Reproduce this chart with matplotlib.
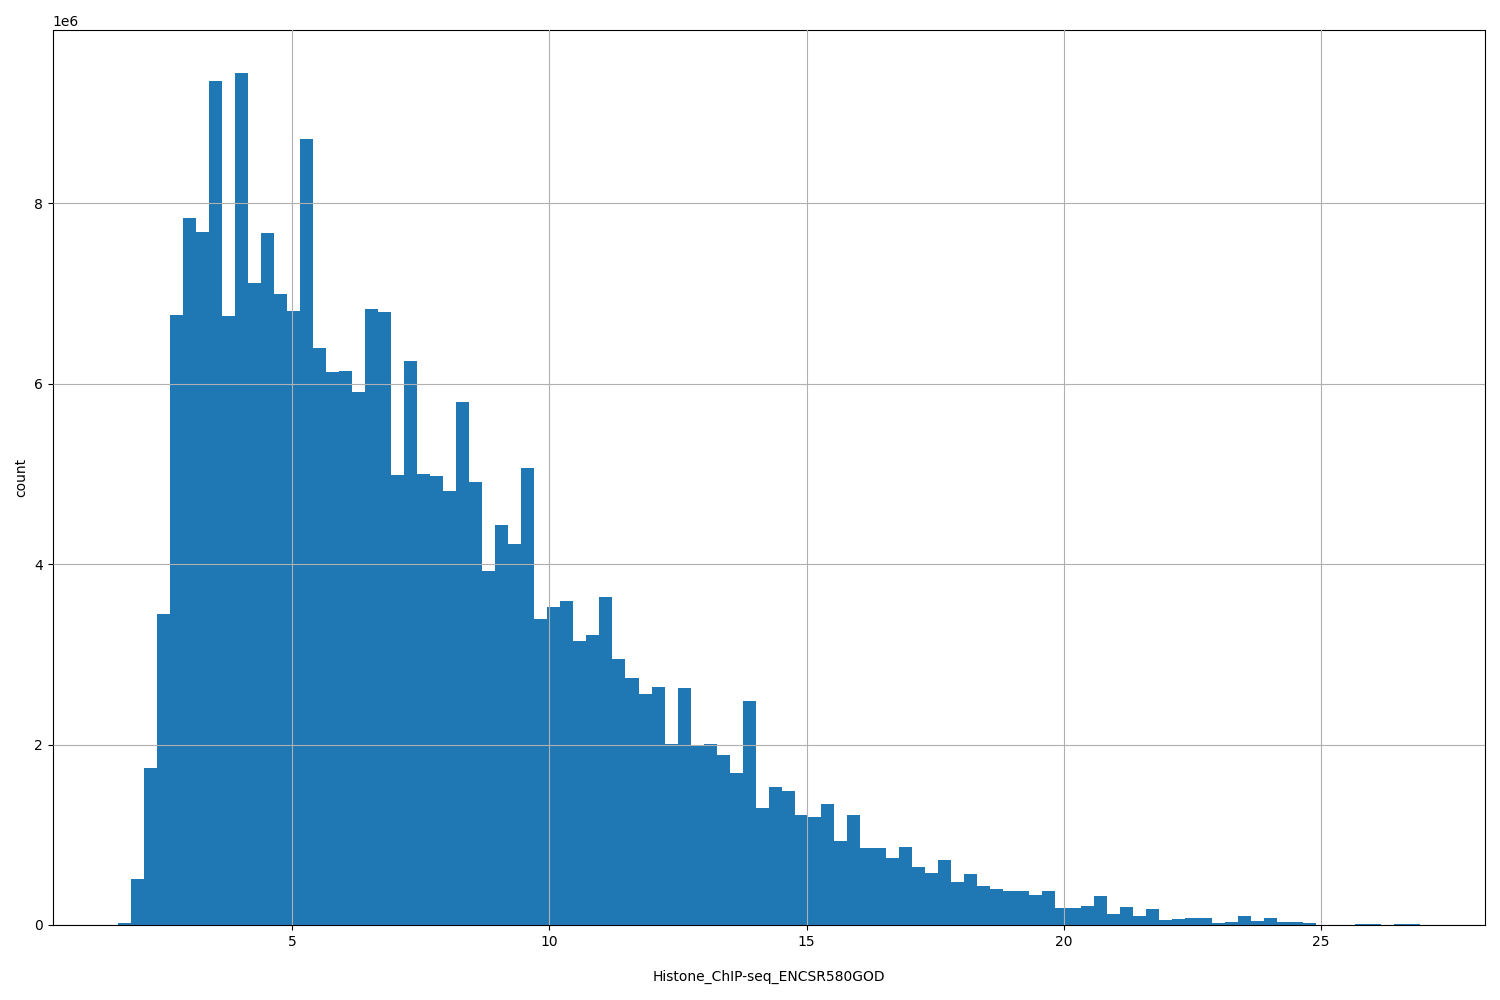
import numpy as np
import matplotlib
matplotlib.use("Agg")
import matplotlib.pyplot as plt

# histogram: 100 bins, counts in millions
x_min, x_max = 1.6, 26.93
counts_m = [
    0.02, 0.51, 1.74, 3.45, 6.76, 7.84, 7.68, 9.36, 6.75, 9.45,
    7.12, 7.67, 7.00, 6.81, 8.71, 6.40, 6.13, 6.14, 5.91, 6.83,
    6.80, 4.99, 6.25, 5.00, 4.98, 4.81, 5.80, 4.91, 3.92, 4.44,
    4.22, 5.07, 3.39, 3.53, 3.59, 3.15, 3.21, 3.64, 2.95, 2.74,
    2.56, 2.64, 2.01, 2.63, 1.99, 2.01, 1.88, 1.68, 2.48, 1.30,
    1.53, 1.49, 1.22, 1.20, 1.34, 0.93, 1.22, 0.85, 0.85, 0.74,
    0.86, 0.64, 0.58, 0.72, 0.48, 0.56, 0.43, 0.40, 0.38, 0.38,
    0.33, 0.38, 0.19, 0.19, 0.21, 0.32, 0.12, 0.20, 0.10, 0.18,
    0.05, 0.07, 0.08, 0.08, 0.02, 0.03, 0.10, 0.04, 0.08, 0.03,
    0.03, 0.02, 0.003, 0.003, 0.005, 0.01, 0.01, 0.005, 0.01, 0.01,
]

edges = np.linspace(x_min, x_max, len(counts_m) + 1)
centers = (edges[:-1] + edges[1:]) / 2
counts = np.array(counts_m) * 1e6

fig, ax = plt.subplots(figsize=(15, 10), dpi=100)
ax.hist(centers, bins=edges, weights=counts, color="#1f77b4")
ax.grid(True)
ax.set_axisbelow(False)
ax.set_xlabel("Histone_ChIP-seq_ENCSR580GOD", labelpad=15)
ax.set_ylabel("count")
plt.subplots_adjust(left=0.035, right=0.99, top=0.97, bottom=0.075)
plt.savefig("out.png", dpi=100)
